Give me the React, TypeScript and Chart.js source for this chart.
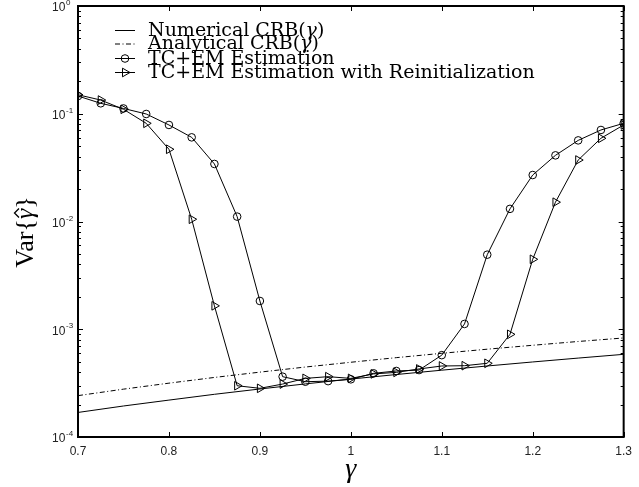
import React, { useEffect, useRef } from "react";
import { Chart, registerables } from "chart.js";

Chart.register(...registerables);

// ---- data ----
const gammaGrid = [
  0.7, 0.725, 0.75, 0.775, 0.8, 0.825, 0.85, 0.875, 0.9, 0.925, 0.95, 0.975, 1.0,
  1.025, 1.05, 1.075, 1.1, 1.125, 1.15, 1.175, 1.2, 1.225, 1.25, 1.275, 1.3,
];
const tcEm = [
  0.146, 0.125, 0.112, 0.0995, 0.0787, 0.0604, 0.0342, 0.0111, 0.00183, 3.63e-4,
  3.26e-4, 3.3e-4, 3.43e-4, 3.9e-4, 4.1e-4, 4.18e-4, 5.75e-4, 1.12e-3, 4.92e-3,
  0.0131, 0.027, 0.0411, 0.0566, 0.0707, 0.0815,
];
const tcEmReinit = [
  0.15, 0.134, 0.11, 0.0815, 0.0468, 0.0105, 1.65e-3, 2.99e-4, 2.83e-4, 3.1e-4,
  3.5e-4, 3.63e-4, 3.5e-4, 3.85e-4, 3.98e-4, 4.28e-4, 4.56e-4, 4.59e-4, 4.83e-4,
  8.97e-4, 4.46e-3, 0.0151, 0.0372, 0.0592, 0.0787,
];
const crbGamma = [0.7, 0.75, 0.8, 0.85, 0.9, 0.95, 1.0, 1.05, 1.1, 1.15, 1.2, 1.25, 1.3];
const numericalCrb = [
  1.69e-4, 1.94e-4, 2.2e-4, 2.49e-4, 2.79e-4, 3.11e-4, 3.45e-4, 3.8e-4, 4.17e-4,
  4.56e-4, 4.97e-4, 5.4e-4, 5.85e-4,
];
const analyticalCrb = [
  2.42e-4, 2.78e-4, 3.16e-4, 3.57e-4, 4.0e-4, 4.46e-4, 4.94e-4, 5.45e-4, 5.98e-4,
  6.53e-4, 7.1e-4, 7.7e-4, 8.3e-4,
];
const xTicks = [0.7, 0.8, 0.9, 1.0, 1.1, 1.2, 1.3];
const yDecades = [-4, -3, -2, -1, 0];
const legendLabels = [
  "Numerical CRB(γ)",
  "Analytical CRB(γ)",
  "TC+EM Estimation",
  "TC+EM Estimation with Reinitialization",
];
const xTitle = "γ";

const DASHDOT = [5, 2.5, 1, 2.5];

function drawTriangle(ctx: CanvasRenderingContext2D, x: number, y: number, r: number) {
  let rad = Math.PI / 2;
  ctx.beginPath();
  ctx.moveTo(x + Math.sin(rad) * r, y - Math.cos(rad) * r);
  rad += (2 * Math.PI) / 3;
  ctx.lineTo(x + Math.sin(rad) * r, y - Math.cos(rad) * r);
  rad += (2 * Math.PI) / 3;
  ctx.lineTo(x + Math.sin(rad) * r, y - Math.cos(rad) * r);
  ctx.closePath();
  ctx.stroke();
}

function drawMixed(
  ctx: CanvasRenderingContext2D,
  text: string,
  x: number,
  y: number,
  size: number,
  family: string
) {
  const parts = text.split(/(γ)/);
  let cx = x;
  for (const p of parts) {
    if (!p) continue;
    ctx.font = (p === "γ" ? "italic " : "") + size + "px " + family;
    ctx.fillText(p, cx, y);
    cx += ctx.measureText(p).width;
  }
}

const framePlugin = {
  id: "framePlugin",
  afterDraw(chart: any) {
    const { ctx, chartArea, scales } = chart;
    const { left, right, top, bottom } = chartArea;
    const xs = scales.x;
    const ys = scales.y;
    ctx.save();
    ctx.strokeStyle = "#000";
    ctx.fillStyle = "#000";
    ctx.setLineDash([]);

    // ticks
    ctx.lineWidth = 1;
    ctx.beginPath();
    for (const v of xTicks) {
      const px = Math.round(xs.getPixelForValue(v)) + 0.5;
      ctx.moveTo(px, bottom);
      ctx.lineTo(px, bottom - 5);
      ctx.moveTo(px, top);
      ctx.lineTo(px, top + 5);
    }
    for (const e of yDecades) {
      for (let k = 1; k <= 9; k++) {
        if (e === 0 && k > 1) continue;
        const v = k * Math.pow(10, e);
        const py = Math.round(ys.getPixelForValue(v)) + 0.5;
        const len = k === 1 ? 5 : 3;
        ctx.moveTo(left, py);
        ctx.lineTo(left + len, py);
        ctx.moveTo(right, py);
        ctx.lineTo(right - len, py);
      }
    }
    ctx.stroke();

    // frame
    ctx.lineWidth = 2;
    ctx.strokeRect(left, top, right - left, bottom - top);

    // y tick labels with superscripts
    ctx.textAlign = "left";
    ctx.textBaseline = "middle";
    for (const e of yDecades) {
      const py = ys.getPixelForValue(Math.pow(10, e));
      ctx.font = "12px 'Liberation Sans', Arial, sans-serif";
      ctx.fillStyle = "#222";
      ctx.fillText("10", 52, py + 2);
      ctx.font = "8px 'Liberation Sans', Arial, sans-serif";
      ctx.fillText(e === 0 ? "0" : "-" + Math.abs(e), 66, py - 3);
    }

    // x title
    ctx.fillStyle = "#000";
    ctx.textAlign = "center";
    ctx.textBaseline = "middle";
    ctx.font = "italic 28px 'Liberation Serif', serif";
    ctx.fillText(xTitle, (left + right) / 2, 470);

    // y title: Var{γ̂}
    ctx.save();
    ctx.translate(25, 232);
    ctx.rotate(-Math.PI / 2);
    ctx.textAlign = "left";
    ctx.textBaseline = "alphabetic";
    const f1 = "26px 'Liberation Serif', serif";
    const f2 = "italic 26px 'Liberation Serif', serif";
    const pieces: [string, string][] = [
      ["Var{", f1],
      ["γ", f2],
      ["}", f1],
    ];
    let total = 0;
    for (const [t, f] of pieces) {
      ctx.font = f;
      total += ctx.measureText(t).width;
    }
    let cx = -total / 2;
    const base = 8;
    for (const [t, f] of pieces) {
      ctx.font = f;
      const w = ctx.measureText(t).width;
      ctx.fillText(t, cx, base);
      if (t === "γ") {
        const hc = cx + w / 2 + 1;
        ctx.lineWidth = 1.3;
        ctx.beginPath();
        ctx.moveTo(hc - 4.5, base - 14);
        ctx.lineTo(hc, base - 18.5);
        ctx.lineTo(hc + 4.5, base - 14);
        ctx.stroke();
      }
      cx += w;
    }
    ctx.restore();

    // legend
    const rows = [30, 43.5, 58, 72];
    ctx.textAlign = "left";
    ctx.textBaseline = "middle";
    legendLabels.forEach((label, i) => {
      const y = rows[i];
      ctx.lineWidth = 1;
      ctx.strokeStyle = "#000";
      ctx.setLineDash(i === 1 ? DASHDOT : []);
      ctx.beginPath();
      ctx.moveTo(115, y + 0.5);
      ctx.lineTo(135, y + 0.5);
      ctx.stroke();
      ctx.setLineDash([]);
      if (i === 2) {
        ctx.beginPath();
        ctx.arc(125, y + 0.5, 3.8, 0, Math.PI * 2);
        ctx.stroke();
      } else if (i === 3) {
        drawTriangle(ctx, 125, y + 0.5, 5);
      }
      ctx.fillStyle = "#000";
      drawMixed(ctx, label, 148, y + 1, 19, "'DejaVu Serif', serif");
    });

    ctx.restore();
  },
};

export default function App() {
  const canvasRef = useRef<HTMLCanvasElement | null>(null);

  useEffect(() => {
    if (!canvasRef.current) return;
    const chart = new Chart(canvasRef.current, {
      type: "line",
      data: {
        datasets: [
          {
            label: "Numerical CRB(γ)",
            data: crbGamma.map((g, i) => ({ x: g, y: numericalCrb[i] })),
            borderColor: "#000",
            borderWidth: 1,
            pointRadius: 0,
            fill: false,
          },
          {
            label: "Analytical CRB(γ)",
            data: crbGamma.map((g, i) => ({ x: g, y: analyticalCrb[i] })),
            borderColor: "#000",
            borderWidth: 1,
            borderDash: DASHDOT,
            pointRadius: 0,
            fill: false,
          },
          {
            label: "TC+EM Estimation",
            data: gammaGrid.map((g, i) => ({ x: g, y: tcEm[i] })),
            borderColor: "#000",
            borderWidth: 1,
            pointStyle: "circle",
            pointRadius: 3.8,
            pointBorderWidth: 1,
            pointBorderColor: "#000",
            pointBackgroundColor: "rgba(0,0,0,0)",
            fill: false,
          },
          {
            label: "TC+EM Estimation with Reinitialization",
            data: gammaGrid.map((g, i) => ({ x: g, y: tcEmReinit[i] })),
            borderColor: "#000",
            borderWidth: 1,
            pointStyle: "triangle",
            pointRotation: 90,
            pointRadius: 5,
            pointBorderWidth: 1,
            pointBorderColor: "#000",
            pointBackgroundColor: "rgba(0,0,0,0)",
            fill: false,
          },
        ],
      },
      options: {
        responsive: false,
        animation: false,
        devicePixelRatio: 1,
        layout: { padding: { top: 6, right: 14, left: 0, bottom: 0 } },
        plugins: {
          legend: { display: false },
          tooltip: { enabled: false },
        },
        scales: {
          x: {
            type: "linear",
            min: 0.7,
            max: 1.3,
            grid: { display: false, drawTicks: false },
            border: { display: false },
            ticks: {
              stepSize: 0.1,
              padding: 7,
              color: "#222",
              font: { family: "'Liberation Sans', Arial, sans-serif", size: 12 },
              maxRotation: 0,
              callback: (v: any) => Number(v).toFixed(1).replace(/\.0$/, ""),
            },
            afterFit: (s: any) => {
              s.height = 50;
            },
          },
          y: {
            type: "logarithmic",
            min: 1e-4,
            max: 1,
            grid: { display: false, drawTicks: false },
            border: { display: false },
            ticks: { display: false },
            afterFit: (s: any) => {
              s.width = 78;
            },
          },
        },
      },
      plugins: [framePlugin],
    });
    return () => chart.destroy();
  }, []);

  return (
    <div
      style={{
        position: "fixed",
        left: 0,
        top: 0,
        width: 639,
        height: 487,
        background: "#fff",
      }}
    >
      <canvas ref={canvasRef} width={639} height={487} />
    </div>
  );
}
